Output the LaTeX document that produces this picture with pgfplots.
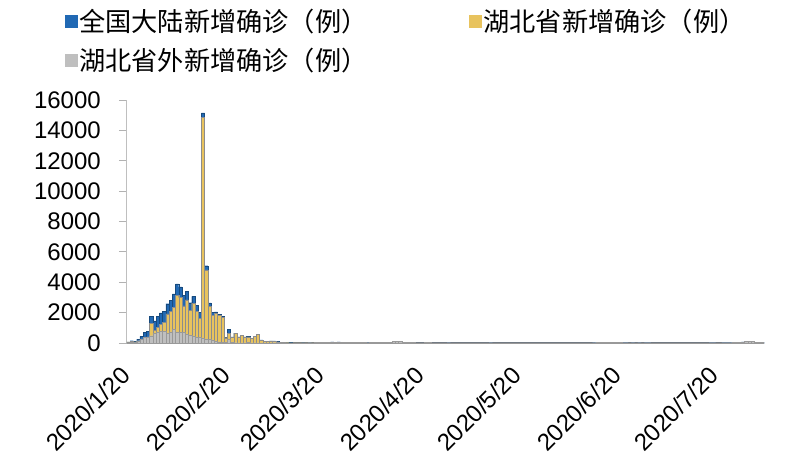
\documentclass[border=0pt]{standalone}
\usepackage{pgfplots}
\pgfplotsset{compat=1.18}
\usepackage{pgfplotstable}
\usepackage{fontspec}
\setmainfont{Liberation Sans}
\newfontfamily\cjk{Noto Sans CJK SC}
\definecolor{cblue}{HTML}{2169B4}
\definecolor{cyellow}{HTML}{E8C35E}
\definecolor{cgray}{HTML}{BFBFBF}
% x: days since 2020/1/20; T: national; H: Hubei; O: outside Hubei
\pgfplotstableread{
x T H O
0 77 72 5
1 149 105 44
2 131 69 62
3 259 105 154
4 444 180 264
5 688 323 365
6 769 371 398
7 1771 1291 480
8 1459 840 619
9 1737 1032 705
10 1982 1220 762
11 2102 1347 755
12 2590 1921 669
13 2829 2103 726
14 3235 2345 890
15 3887 3156 731
16 3694 2987 707
17 3143 2447 696
18 3399 2841 558
19 2656 2147 509
20 3062 2618 444
21 2478 2097 381
22 2015 1638 377
23 15152 14840 312
24 5090 4823 267
25 2641 2420 221
26 2009 1843 166
27 2048 1933 115
28 1886 1807 79
29 1749 1693 56
30 394 349 45
31 889 631 258
32 397 366 31
33 648 630 18
34 409 398 11
35 508 499 9
36 406 401 5
37 433 409 24
38 327 318 9
39 427 423 4
40 573 570 3
41 202 196 6
42 125 114 11
43 119 115 4
44 139 134 5
45 143 126 17
46 99 74 25
47 44 41 3
48 40 36 4
49 19 17 2
50 24 13 11
51 15 8 7
52 8 5 3
53 11 4 7
54 20 4 16
55 16 4 12
56 21 1 20
57 13 1 12
58 34 0 34
59 39 0 39
60 41 0 41
61 46 0 46
62 39 0 39
63 78 0 78
64 47 0 47
65 67 0 67
66 55 0 55
67 54 0 54
68 45 0 45
69 31 0 31
70 48 0 48
71 36 0 36
72 35 0 35
73 31 0 31
74 19 0 19
75 30 0 30
76 39 0 39
77 32 0 32
78 62 0 62
79 63 0 63
80 42 0 42
81 46 0 46
82 99 0 99
83 108 0 108
84 89 0 89
85 46 0 46
86 26 0 26
87 27 0 27
88 27 0 27
89 16 0 16
90 12 0 12
91 11 0 11
92 30 0 30
93 30 0 30
94 10 0 10
95 12 0 12
96 11 0 11
97 3 0 3
98 6 0 6
99 22 0 22
100 4 0 4
101 12 0 12
102 12 0 12
103 2 0 2
104 3 0 3
105 1 0 1
106 2 0 2
107 2 0 2
108 4 0 4
109 1 0 1
110 1 0 1
111 14 0 14
112 17 0 17
113 1 0 1
114 3 0 3
115 7 0 7
116 4 0 4
117 5 0 5
118 7 0 7
119 6 0 6
120 6 0 6
121 5 0 5
122 2 0 2
123 3 0 3
124 2 0 2
125 3 0 3
126 11 0 11
127 7 0 7
128 2 0 2
129 4 0 4
130 1 0 1
131 4 0 4
132 16 0 16
133 5 0 5
134 4 0 4
135 8 0 8
136 4 0 4
137 7 0 7
138 4 0 4
139 3 0 3
140 4 0 4
141 3 0 3
142 3 0 3
143 11 0 11
144 18 0 18
145 57 0 57
146 49 0 49
147 40 0 40
148 44 0 44
149 28 0 28
150 25 0 25
151 32 0 32
152 26 0 26
153 22 0 22
154 18 0 18
155 12 0 12
156 19 0 19
157 11 0 11
158 21 0 21
159 12 0 12
160 17 0 17
161 19 0 19
162 3 0 3
163 3 0 3
164 5 0 5
165 5 0 5
166 3 0 3
167 8 0 8
168 3 0 3
169 7 0 7
170 11 0 11
171 2 0 2
172 7 0 7
173 7 0 7
174 8 0 8
175 3 0 3
176 4 0 4
177 8 0 8
178 12 0 12
179 11 0 11
180 22 0 22
181 22 0 22
182 11 0 11
183 14 0 14
184 22 0 22
185 21 0 21
186 22 0 22
187 46 0 46
188 57 0 57
189 64 0 64
190 68 0 68
191 101 0 101
192 105 0 105
193 127 0 127
194 45 0 45
195 49 0 49
196 36 0 36
}\covid
\begin{document}
\begin{tikzpicture}
\useasboundingbox (-127bp,-131bp) rectangle (673bp,343bp);
\begin{axis}[
  at={(0,0)}, anchor=south west,
  scale only axis,
  width=637bp, height=243bp,
  xmin=-0.5, xmax=196.5,
  ymin=0, ymax=16000,
  axis x line*=bottom, axis y line*=left,
  x axis line style={draw=black!55, line width=1.2bp, -},
  y axis line style={draw=black!25, line width=1bp, -},
  ytick={0,2000,...,16000},
  scaled y ticks=false,
  /pgf/number format/1000 sep={},
  /pgf/number format/assume math mode=true,
  xtick={0,31,60,91,121,152,182},
  xticklabels={2020/1/20,2020/2/20,2020/3/20,2020/4/20,2020/5/20,2020/6/20,2020/7/20},
  tick label style={font=\fontsize{24bp}{28bp}\selectfont},
  xticklabel style={yshift=-20bp, xshift=-3bp, rotate=45, anchor=east, inner sep=0pt},
  yticklabel style={anchor=east, inner sep=0pt, xshift=-18bp},
  tick align=outside,
  major tick length=8bp,
  ytick style={draw=black!30, line width=0.8bp},
  xtick style={draw=none},
  legend columns=2,
  legend style={draw=none, fill=none, inner sep=0pt,
    at={(axis description cs:-0.098,1.382)}, anchor=north west,
    font=\cjk\fontsize{26.2bp}{30bp}\selectfont,
    row sep=12bp,
    /tikz/every even column/.append style={column sep=100bp},
    nodes={inner sep=1.5bp}},
  legend image code/.code={\fill[#1,draw=none] (0bp,-7bp) rectangle (13bp,6bp);},
]
\addplot[ybar, bar width=1, bar shift=0pt, fill=cblue, draw=cblue!70!black, line width=0.3bp] table[x=x, y=T] {\covid};
\addlegendentry{全国大陆新增确诊（例）}
\addplot[ybar, bar width=1, bar shift=0pt, fill=cyellow, draw=black!45, line width=0.3bp, restrict x to domain=0:57] table[x=x, y=H] {\covid};
\addlegendentry{湖北省新增确诊（例）}
\addplot[ybar, bar width=1, bar shift=0pt, fill=cgray, draw=black!40, line width=0.3bp] table[x=x, y=O] {\covid};
\addlegendentry{湖北省外新增确诊（例）}
\end{axis}
\end{tikzpicture}
\end{document}
